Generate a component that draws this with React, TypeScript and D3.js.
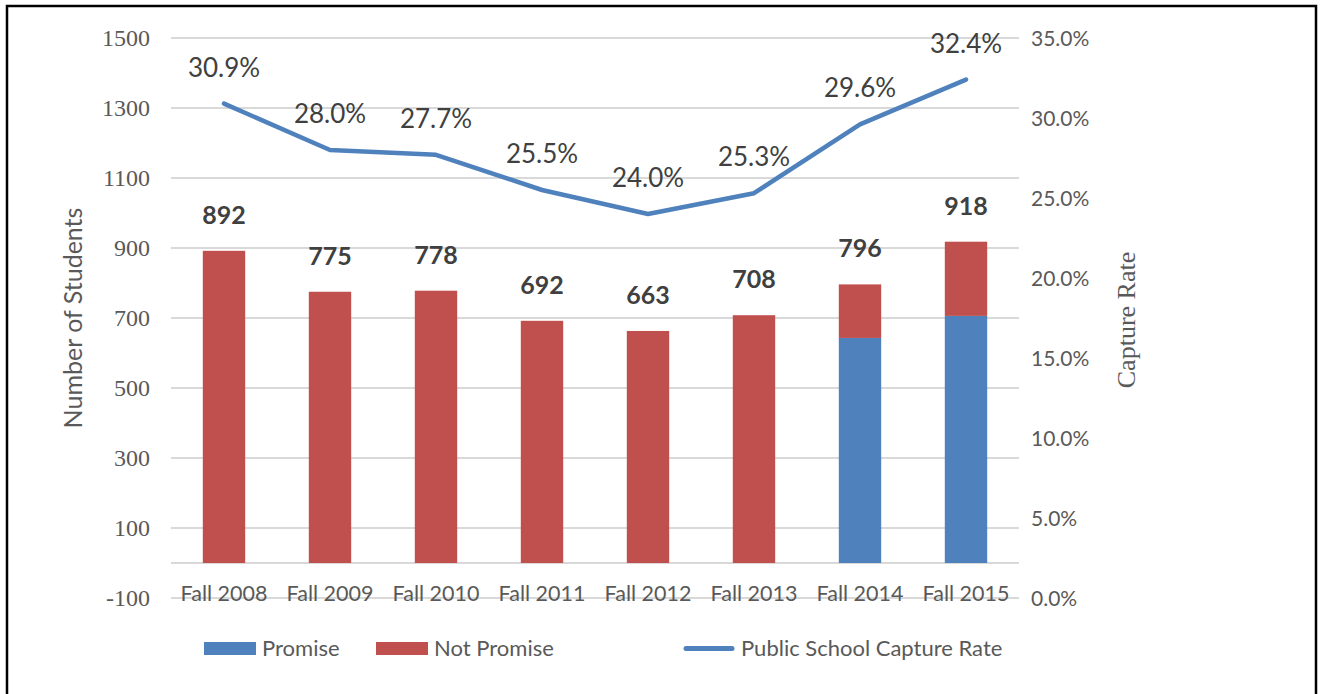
import * as d3 from "d3";

// chart data
const categories = ["Fall 2008", "Fall 2009", "Fall 2010", "Fall 2011", "Fall 2012", "Fall 2013", "Fall 2014", "Fall 2015"];
const promise = [0, 0, 0, 0, 0, 0, 643, 706];
const notPromise = [892, 775, 778, 692, 663, 708, 153, 212];
const captureRate = [0.309, 0.28, 0.277, 0.255, 0.24, 0.253, 0.296, 0.324];
const leftTicks = [-100, 100, 300, 500, 700, 900, 1100, 1300, 1500];
const rightTicks = [0, 0.05, 0.1, 0.15, 0.2, 0.25, 0.3, 0.35];

const W = 1322;
const H = 694;
const BLUE = "#4F81BD";
const RED = "#C0504D";
const SANS = "Lato, 'Open Sans', sans-serif";
const SERIF = "'Liberation Serif', serif";

const App = () => {
  // scales
  const x = d3.scaleBand().domain(categories).range([171, 1019]).paddingInner(0.6).paddingOuter(0.3);
  const y = d3.scaleLinear().domain([-100, 1500]).range([598, 38]);
  const yR = d3.scaleLinear().domain([0, 0.35]).range([598, 38]);

  const rows = categories.map((c, i) => ({ cat: c, promise: promise[i], notPromise: notPromise[i] }));
  const stacked = d3.stack().keys(["promise", "notPromise"])(rows as any);
  const colors = [BLUE, RED];

  const cx = (c) => (x(c) as number) + x.bandwidth() / 2;
  const line = d3
    .line<number>()
    .x((_, i) => cx(categories[i]))
    .y((d) => yR(d));

  const pct = d3.format(".1%");

  return (
    <svg width={W} height={H} style={{ position: "absolute", left: 0, top: 0, background: "#fff" }}>
      {/* frame */}
      <path d={`M7,${H + 5}V6H1316V${H + 5}`} fill="none" stroke="#000" strokeWidth={2.5} />

      {/* gridlines */}
      {[...leftTicks, 0].map((t) => (
        <line key={"g" + t} x1={171} x2={1019} y1={y(t)} y2={y(t)} stroke="#D9D9D9" strokeWidth={2} />
      ))}

      {/* left axis labels */}
      {leftTicks.map((t) => (
        <text key={"l" + t} x={150} y={y(t) + 8} textAnchor="end" fontFamily={SERIF} fontSize={24} fill="#595959">
          {t}
        </text>
      ))}

      {/* right axis labels */}
      {rightTicks.map((t) => (
        <text key={"r" + t} x={1031} y={yR(t) + 7.5} fontFamily={SANS} fontSize={21} fill="#595959">
          {pct(t)}
        </text>
      ))}

      {/* axis titles */}
      <text transform="translate(82,318) rotate(-90)" textAnchor="middle" fontFamily={SANS} fontSize={25} fill="#595959">
        Number of Students
      </text>
      <text transform="translate(1135,320) rotate(-90)" textAnchor="middle" fontFamily={SERIF} fontSize={26} fill="#595959">
        Capture Rate
      </text>

      {/* bars */}
      {stacked.map((s, k) => (
        <g key={"s" + k} fill={colors[k]}>
          {s.map((d, i) =>
            d[1] - d[0] > 0 ? (
              <rect key={i} x={x(categories[i])} y={y(d[1])} width={x.bandwidth()} height={y(d[0]) - y(d[1])} />
            ) : null
          )}
        </g>
      ))}

      {/* category labels */}
      {categories.map((c) => (
        <text key={"c" + c} x={cx(c)} y={601} textAnchor="middle" fontFamily={SANS} fontSize={21.5} fill="#595959">
          {c}
        </text>
      ))}

      {/* totals */}
      {categories.map((c, i) => {
        const total = promise[i] + notPromise[i];
        return (
          <text key={"t" + c} x={cx(c)} y={y(total) - 27} textAnchor="middle" fontFamily={SANS} fontWeight="bold" fontSize={25} fill="#404040">
            {total}
          </text>
        );
      })}

      {/* capture rate line */}
      <path d={line(captureRate) || ""} fill="none" stroke={BLUE} strokeWidth={4.5} strokeLinejoin="round" strokeLinecap="round" />
      {captureRate.map((v, i) => (
        <text key={"p" + i} x={cx(categories[i])} y={yR(v) - 27} textAnchor="middle" fontFamily={SANS} fontSize={26} fill="#404040">
          {pct(v)}
        </text>
      ))}

      {/* legend */}
      <rect x={204} y={642} width={52} height={13} fill={BLUE} />
      <text x={262} y={656} fontFamily={SANS} fontSize={22} fill="#595959">Promise</text>
      <rect x={376} y={642} width={52} height={13} fill={RED} />
      <text x={434} y={656} fontFamily={SANS} fontSize={22} fill="#595959">Not Promise</text>
      <line x1={686} x2={732} y1={648.5} y2={648.5} stroke={BLUE} strokeWidth={5} strokeLinecap="round" />
      <text x={741} y={656} fontFamily={SANS} fontSize={22} fill="#595959">Public School Capture Rate</text>
    </svg>
  );
};

export default App;
